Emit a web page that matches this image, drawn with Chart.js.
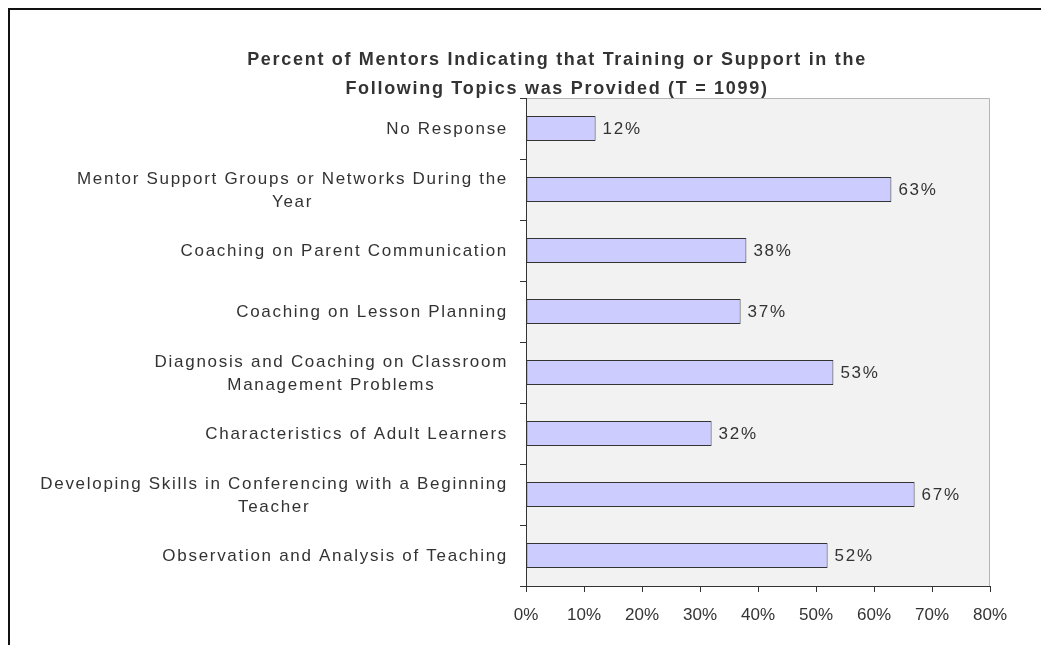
<!DOCTYPE html>
<html>
<head>
<meta charset="utf-8">
<script src="https://cdn.jsdelivr.net/npm/chart.js@4/dist/chart.umd.min.js"></script>
<style>
  html, body { margin: 0; padding: 0; background: #fff; }
  canvas { display: block; }
</style>
</head>
<body>
<canvas id="mentorChart" width="1041" height="645"></canvas>
<script>
// ---- data ----
const titleLines = [
    'Percent of Mentors Indicating that Training or Support in the',
    'Following Topics was Provided (T = 1099)'
];
const topics = [
    'No Response',
    ['Mentor Support Groups or Networks During the', 'Year'],
    'Coaching on Parent Communication',
    'Coaching on Lesson Planning',
    ['Diagnosis and Coaching on Classroom', 'Management Problems'],
    'Characteristics of Adult Learners',
    ['Developing Skills in Conferencing with a Beginning', 'Teacher'],
    'Observation and Analysis of Teaching'
];
const percents = [12, 63, 38, 37, 53, 32, 67, 52];
const xMin = 0, xMax = 80, xStep = 10;

const textColor = '#333333';
const fontFamily = '"Liberation Sans", Arial, sans-serif';
const spacing = '1.7px';

// plot background, frame, title, category labels and value labels
const decorations = {
    id: 'decorations',
    beforeDraw(chart) {
        const { ctx, chartArea: a } = chart;
        ctx.save();
        // outer frame (left and top only)
        ctx.fillStyle = '#111';
        ctx.fillRect(8, 8, chart.width, 2);
        ctx.fillRect(8, 8, 2, chart.height);
        // gray plot area
        ctx.fillStyle = '#f2f2f2';
        ctx.fillRect(a.left, a.top, a.right - a.left, a.bottom - a.top);
        ctx.strokeStyle = '#b4b4b4';
        ctx.lineWidth = 1;
        ctx.beginPath();
        ctx.moveTo(a.left, a.top + 0.5);
        ctx.lineTo(a.right - 0.5, a.top + 0.5);
        ctx.lineTo(a.right - 0.5, a.bottom);
        ctx.stroke();
        ctx.restore();
    },
    afterDraw(chart) {
        const { ctx } = chart;
        const yScale = chart.scales.y;
        ctx.save();
        if ('letterSpacing' in ctx) ctx.letterSpacing = spacing;
        ctx.fillStyle = textColor;
        ctx.textBaseline = 'middle';

        // title
        ctx.font = 'bold 18px ' + fontFamily;
        ctx.textAlign = 'center';
        titleLines.forEach((line, i) => ctx.fillText(line, 557, 60 + i * 29));

        // category labels, multi-line ones centred on their widest line
        ctx.font = '17px ' + fontFamily;
        const labelRight = yScale.right - 18;
        const lineH = 23;
        topics.forEach((label, i) => {
            const lines = Array.isArray(label) ? label : [label];
            const y = yScale.getPixelForValue(i);
            if (lines.length === 1) {
                ctx.textAlign = 'right';
                ctx.fillText(lines[0], labelRight, y + 1);
                return;
            }
            const widest = Math.max(...lines.map(l => ctx.measureText(l).width));
            ctx.textAlign = 'center';
            lines.forEach((l, j) => {
                ctx.fillText(l, labelRight - widest / 2, y + 1 + (j - (lines.length - 1) / 2) * lineH);
            });
        });

        // value labels at bar ends
        ctx.textAlign = 'left';
        const meta = chart.getDatasetMeta(0);
        meta.data.forEach((bar, i) => {
            ctx.fillText(percents[i] + '%', bar.x + 7, bar.y + 1);
        });
        ctx.restore();
    }
};

new Chart(document.getElementById('mentorChart'), {
    type: 'bar',
    data: {
        labels: topics,
        datasets: [{
            data: percents,
            backgroundColor: '#ccccff',
            borderColor: '#333333',
            borderWidth: 1,
            borderSkipped: false,
            barPercentage: 0.41,
            categoryPercentage: 1
        }]
    },
    options: {
        indexAxis: 'y',
        responsive: false,
        animation: false,
        layout: { padding: { left: 0, right: 51, top: 98, bottom: 0 } },
        plugins: {
            legend: { display: false },
            title: { display: false },
            tooltip: { enabled: false }
        },
        scales: {
            x: {
                min: xMin,
                max: xMax,
                grid: { drawOnChartArea: false, tickLength: 6, color: '#333333' },
                border: { color: '#333333', width: 1 },
                ticks: {
                    stepSize: xStep,
                    padding: 13,
                    color: textColor,
                    font: { family: fontFamily, size: 17 },
                    callback: v => v + '%'
                },
                afterFit: s => { s.height = 59; }
            },
            y: {
                offset: true,
                grid: { offset: true, drawOnChartArea: false, tickLength: 6, color: '#333333' },
                border: { color: '#333333', width: 1 },
                ticks: { display: false },
                afterFit: s => { s.width = 526; }
            }
        }
    },
    plugins: [decorations]
});
</script>
</body>
</html>
